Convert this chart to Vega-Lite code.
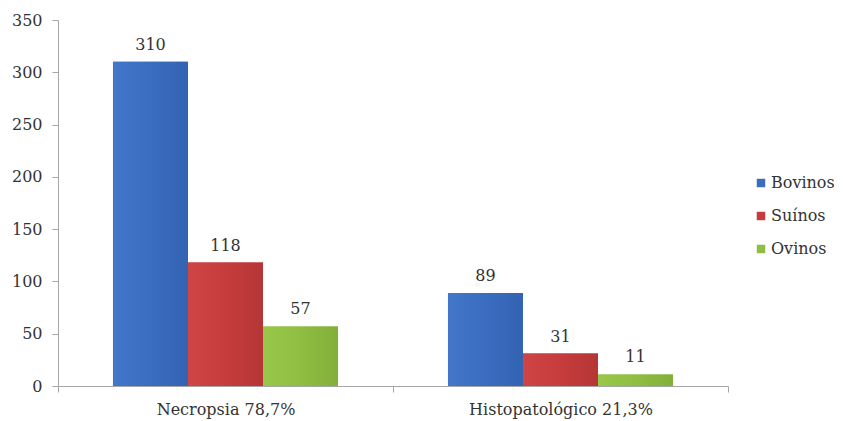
{
  "$schema": "https://vega.github.io/schema/vega-lite/v6.json",
  "width": 670,
  "height": 366,
  "autosize": "none",
  "padding": {"left": 58, "top": 20, "right": 115, "bottom": 35},
  "background": "white",
  "config": {"view": {"stroke": null}, "font": "DejaVu Serif"},
  "data": {
    "values": [
      {"grupo": "Necropsia 78,7%", "especie": "Bovinos", "valor": 310},
      {"grupo": "Necropsia 78,7%", "especie": "Suínos", "valor": 118},
      {"grupo": "Necropsia 78,7%", "especie": "Ovinos", "valor": 57},
      {"grupo": "Histopatológico 21,3%", "especie": "Bovinos", "valor": 89},
      {"grupo": "Histopatológico 21,3%", "especie": "Suínos", "valor": 31},
      {"grupo": "Histopatológico 21,3%", "especie": "Ovinos", "valor": 11}
    ]
  },
  "encoding": {
    "x": {
      "field": "grupo",
      "type": "nominal",
      "sort": ["Necropsia 78,7%", "Histopatológico 21,3%"],
      "scale": {"paddingInner": 0, "paddingOuter": 0},
      "axis": {
        "title": null,
        "labelAngle": 0,
        "labelLimit": 0,
        "tickBand": "extent",
        "tickSize": 6,
        "tickColor": "#a6a6a6",
        "domainColor": "#a6a6a6",
        "labelFont": "DejaVu Serif",
        "labelFontSize": 16,
        "labelColor": "#333333",
        "labelPadding": 9
      }
    },
    "xOffset": {
      "field": "especie",
      "sort": ["Bovinos", "Suínos", "Ovinos"],
      "scale": {"paddingInner": 0, "paddingOuter": 0.733}
    },
    "y": {
      "field": "valor",
      "type": "quantitative",
      "scale": {"domain": [0, 350]},
      "axis": {
        "title": null,
        "values": [0, 50, 100, 150, 200, 250, 300, 350],
        "grid": false,
        "tickSize": 6,
        "tickColor": "#a6a6a6",
        "domainColor": "#a6a6a6",
        "labelFont": "DejaVu Serif",
        "labelFontSize": 16,
        "labelColor": "#333333",
        "labelPadding": 10
      }
    }
  },
  "layer": [
    {
      "mark": {"type": "bar"},
      "encoding": {
        "color": {
          "field": "especie",
          "type": "nominal",
          "sort": ["Bovinos", "Suínos", "Ovinos"],
          "scale": {"domain": ["Bovinos", "Suínos", "Ovinos"], "range": ["#3a6cc0", "#c63c3c", "#8fbe42"]},
          "legend": {
            "title": null,
            "orient": "none",
            "legendX": 695,
            "legendY": 155,
            "symbolType": "square",
            "symbolSize": 72,
            "labelFont": "DejaVu Serif",
            "labelFontSize": 16,
            "labelColor": "#333333",
            "rowPadding": 17,
            "labelOffset": 2
          }
        }
      }
    },
    {
      "transform": [{"filter": "datum.especie === 'Bovinos'"}],
      "mark": {
        "type": "bar",
        "fill": {"gradient": "linear", "x1": 0, "x2": 1, "y1": 0, "y2": 0, "stops": [{"offset": 0, "color": "#4377c9"}, {"offset": 0.5, "color": "#3a6cc0"}, {"offset": 1, "color": "#3363b2"}]}
      },
      "encoding": {}
    },
    {
      "transform": [{"filter": "datum.especie === 'Suínos'"}],
      "mark": {
        "type": "bar",
        "fill": {"gradient": "linear", "x1": 0, "x2": 1, "y1": 0, "y2": 0, "stops": [{"offset": 0, "color": "#cf4444"}, {"offset": 0.5, "color": "#c63c3c"}, {"offset": 1, "color": "#b53636"}]}
      },
      "encoding": {}
    },
    {
      "transform": [{"filter": "datum.especie === 'Ovinos'"}],
      "mark": {
        "type": "bar",
        "fill": {"gradient": "linear", "x1": 0, "x2": 1, "y1": 0, "y2": 0, "stops": [{"offset": 0, "color": "#98c84a"}, {"offset": 0.5, "color": "#8fbe42"}, {"offset": 1, "color": "#82af3a"}]}
      },
      "encoding": {}
    },
    {
      "mark": {"type": "text", "baseline": "middle", "dy": -17, "font": "DejaVu Serif", "fontSize": 16, "fill": "#333333"},
      "encoding": {"text": {"field": "valor", "type": "quantitative"}}
    }
  ]
}
